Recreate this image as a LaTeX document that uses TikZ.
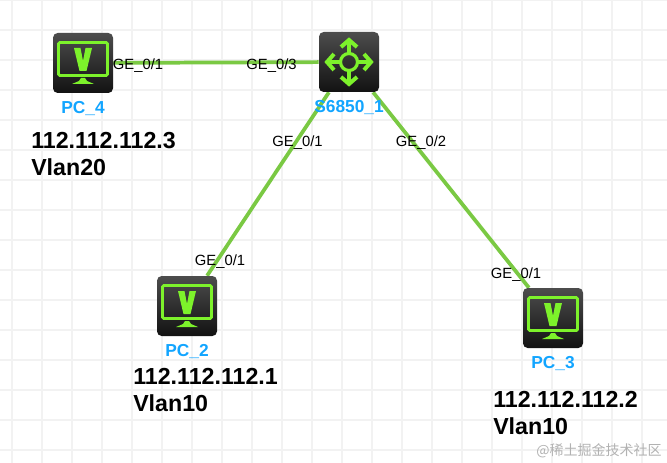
\documentclass[tikz,border=0pt]{standalone}
\usepackage{fontspec}
\setmainfont{Liberation Sans}
\newfontfamily\cjkfont{Noto Sans CJK SC}
\usetikzlibrary{positioning,backgrounds}
\definecolor{lime}{HTML}{7DF22B}
\definecolor{linkgreen}{HTML}{7AC943}
\definecolor{namecolor}{HTML}{12A5FF}
\definecolor{gridgray}{HTML}{F2F2F2}

\begin{document}
\begin{tikzpicture}[
    x=0.75pt,y=-0.75pt,
    device/.style={rectangle,rounded corners=3.5pt,minimum size=45pt,inner sep=0pt,top color=black!70,bottom color=black!93},
    link/.style={draw=linkgreen,line width=2.8pt},
    gridline/.style={draw=gridgray,line width=1.5pt},
    portlabel/.style={inner sep=0pt,font=\fontsize{11.1}{13}\selectfont},
    namelabel/.style={inner sep=0pt,text=namecolor,font=\bfseries\fontsize{13}{15}\selectfont},
    addr/.style={inner sep=0pt,align=left,anchor=north west,font=\bfseries\fontsize{17.4}{20}\selectfont},
    pcicon/.pic={
        \draw[draw=lime,line width=2.2pt,rounded corners=1pt] (-24.5,-20.5) rectangle (24.5,12.5);
        \fill[lime] (-9,-15) -- (-2.5,-15) -- (0,-2) -- (2.5,-15) -- (9,-15) -- (3.5,8) -- (-3.5,8) -- cycle;
        \fill[lime] (-2,15) -- (2,15) -- (4,18) -- (11,21) -- (-11,21) -- (-4,18) -- cycle;
    },
    switchicon/.pic={
        \draw[draw=lime,line width=2.4pt] (0,0) circle (8.5);
        \foreach \a in {0,90,180,270} {
            \draw[draw=lime,line width=2.6pt,rotate=\a] (9,0) -- (21,0);
            \draw[draw=lime,line width=3pt,rotate=\a] (15,-8) -- (22,0) -- (15,8);
        }
    }
]
\useasboundingbox (0,0) rectangle (667,463);

% Devices
\node[device] (PC4) at (83,63) {};
\node[device] (S1) at (349,62) {};
\node[device] (PC2) at (187,306) {};
\node[device] (PC3) at (553,318) {};
\pic at (PC4) {pcicon};
\pic at (S1) {switchicon};
\pic at (PC2) {pcicon};
\pic at (PC3) {pcicon};

% Device names
\node[namelabel,below=5.6pt of PC4] (namePC4) {PC\_4};
\node[namelabel,below=5.6pt of S1] (nameS1) {S6850\_1};
\node[namelabel,below=5.6pt of PC2] (namePC2) {PC\_2};
\node[namelabel,below=5.6pt of PC3] (namePC3) {PC\_3};

% Addresses
\node[addr] (addrPC4) at (31,132) {112.112.112.3\\Vlan20};
\node[addr] (addrPC2) at (133,368) {112.112.112.1\\Vlan10};
\node[addr] (addrPC3) at (493,391) {112.112.112.2\\Vlan10};

% Ports
\node[portlabel] (p41) at (138,66) {GE\_0/1};
\node[portlabel] (s3) at (271.5,66) {GE\_0/3};
\node[portlabel] (s1) at (297.5,143) {GE\_0/1};
\node[portlabel] (s2) at (421,143) {GE\_0/2};
\node[portlabel] (p21) at (220,262) {GE\_0/1};
\node[portlabel] (p31) at (516,275) {GE\_0/1};

% Watermark
\node[inner sep=0pt,anchor=east,text=black!30,font=\cjkfont\fontsize{10.5}{12}\selectfont] (mark) at (662,451) {@稀土掘金技术社区};

% Grid and links
\begin{scope}[on background layer]
\fill[white] (0,0) rectangle (667,463);
\foreach \x in {12,42,...,642} {
    \draw[gridline] (\x,0) -- (\x,463);
}
\foreach \y in {0,30,...,450} {
    \draw[gridline] (0,\y) -- (667,\y);
}
\draw[link] (PC4) -- (S1);
\draw[link] (S1) -- (PC2);
\draw[link] (S1) -- (PC3);
\end{scope}

\end{tikzpicture}
\end{document}
